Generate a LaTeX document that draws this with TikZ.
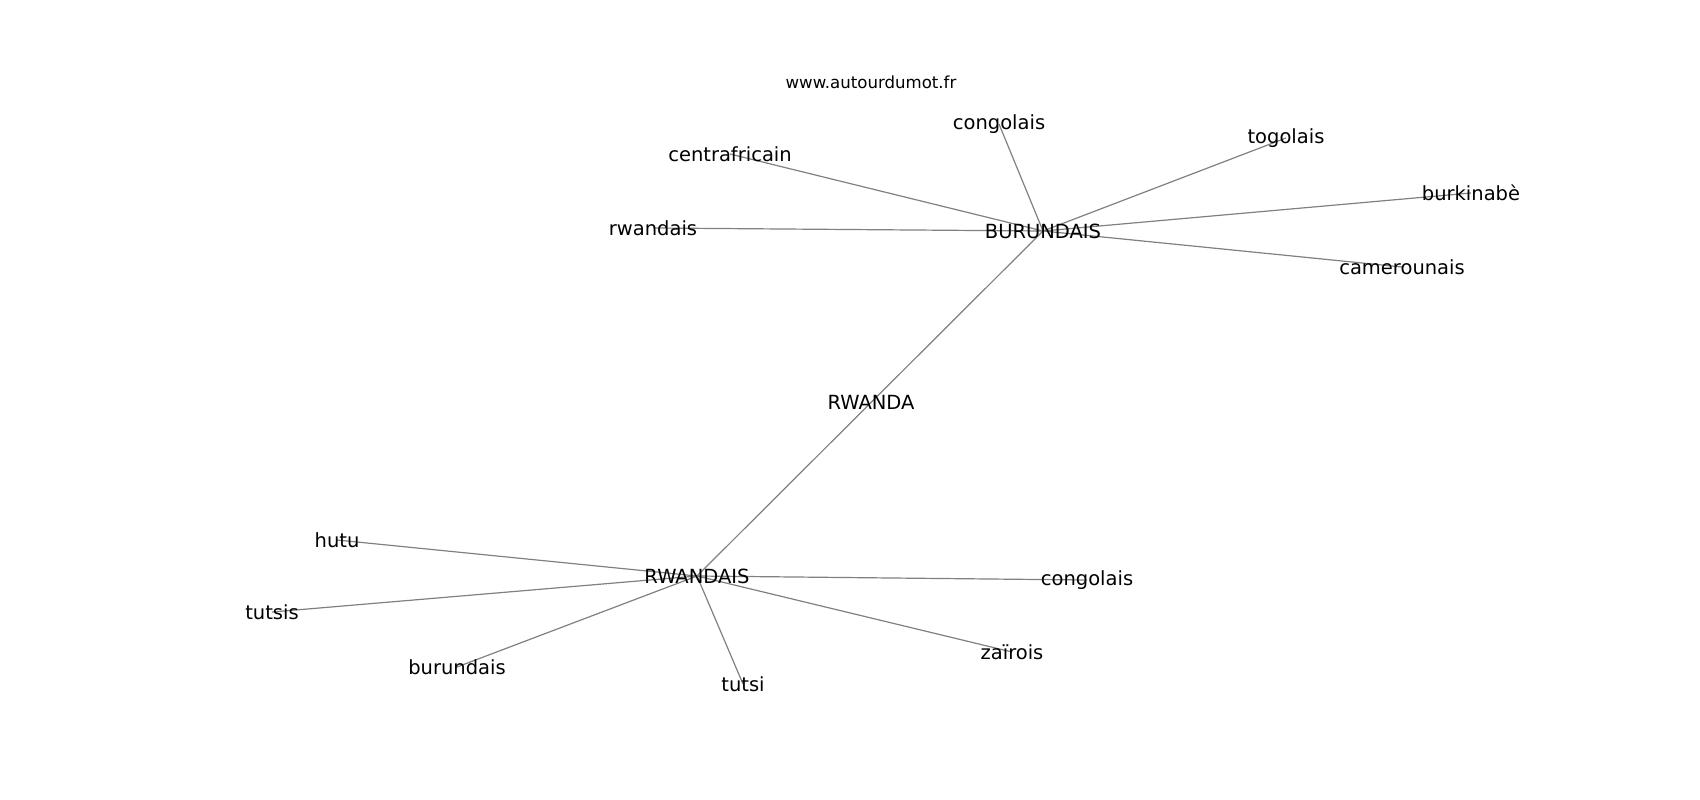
\documentclass[tikz,border=0pt]{standalone}
\usepackage{fontspec}
\setmainfont{DejaVu Sans}
\usepackage{tikz}
\usetikzlibrary{backgrounds}
\definecolor{edgegray}{RGB}{128,128,128}
\tikzset{word/.style={inner sep=0pt,font=\fontsize{19.5}{23}\selectfont},
	edge/.style={draw=edgegray,line width=1.2pt}}
\begin{document}
\begin{tikzpicture}[x=1pt,y=-1pt]
			\useasboundingbox (0,0) rectangle (1700,800);
			\node[inner sep=0pt,font=\fontsize{16.6}{20}\selectfont] (site) at (871,82) {www.autourdumot.fr};
			\node[word] (burundaisU) at (1043,231) {BURUNDAIS};
			\node[word] (rwandaisU) at (697,576) {RWANDAIS};
			\node[word] (rwanda) at (871,402) {RWANDA};
			\node[word] (congoA) at (999,124) {congolais};
			\node[word] (centraf) at (730,154) {centrafricain};
			\node[word] (togo) at (1286,138) {togolais};
			\node[word] (burkina) at (1471,193) {burkinabè};
			\node[word] (rwandaisL) at (653,228) {rwandais};
			\node[word] (camer) at (1402,267) {camerounais};
			\node[word] (hutu) at (337,540) {hutu};
			\node[word] (tutsis) at (272,612) {tutsis};
			\node[word] (burundaisL) at (457,667) {burundais};
			\node[word] (tutsi) at (743,684) {tutsi};
			\node[word] (zairois) at (1012,652) {zaïrois};
			\node[word] (congoB) at (1087,580) {congolais};
			\begin{scope}[on background layer]
			\draw[edge] (burundaisU.center) -- (congoA.center);
			\draw[edge] (burundaisU.center) -- (centraf.center);
			\draw[edge] (burundaisU.center) -- (togo.center);
			\draw[edge] (burundaisU.center) -- (burkina.center);
			\draw[edge] (burundaisU.center) -- (rwandaisL.center);
			\draw[edge] (burundaisU.center) -- (camer.center);
			\draw[edge] (burundaisU.center) -- (rwandaisU.center);
			\draw[edge] (rwandaisU.center) -- (hutu.center);
			\draw[edge] (rwandaisU.center) -- (tutsis.center);
			\draw[edge] (rwandaisU.center) -- (burundaisL.center);
			\draw[edge] (rwandaisU.center) -- (tutsi.center);
			\draw[edge] (rwandaisU.center) -- (zairois.center);
			\draw[edge] (rwandaisU.center) -- (congoB.center);
			\end{scope}
		\end{tikzpicture}
\end{document}
